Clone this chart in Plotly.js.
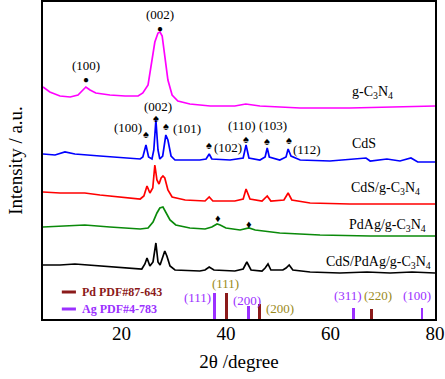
<!DOCTYPE html>
<html>
<head>
<meta charset="utf-8">
<script src="https://cdn.plot.ly/plotly-3.0.1.min.js"></script>
<style>html,body{margin:0;padding:0;background:#fff;}#chart{width:445px;height:379px;}</style>
</head>
<body>
<div id="chart"></div>
<script>
// 2θ (degree) and intensity (a.u., offset stacked)
const gcn_x = [5, 6.3, 8.25, 10.2, 11.7, 12.65, 13.2, 14.0, 15.1, 17.8, 20.7, 23.2, 24.1, 25.1, 25.85, 26.4, 27.0, 27.4, 27.8, 28.3, 28.9, 29.7, 30.8, 33.1, 37.0, 41.7, 43.8, 46.5, 54.2, 63.7, 73.3, 80];
const gcn_y = [232, 227, 223, 222, 224, 229, 232, 229, 226, 224, 223, 223, 226, 234, 259, 277, 286, 287, 283, 264, 239, 224, 218, 215, 213, 213, 215, 213, 211, 211, 212, 213];

const cds_x = [5, 7.3, 9.2, 11.1, 15.9, 21.6, 23.6, 24.1, 24.7, 25.2, 25.85, 26.2, 26.6, 27.0, 27.35, 27.9, 28.5, 28.9, 29.5, 30.25, 35.0, 36.2, 36.8, 37.3, 40.8, 43.3, 43.85, 44.4, 46.5, 47.5, 47.9, 48.3, 50.3, 51.5, 51.9, 52.45, 53.2, 54.2, 59.9, 66.8, 67.6, 70.8, 73.3, 75.4, 76.7, 80];
const cds_y = [165, 164, 167, 165, 163, 161, 160, 162, 174, 162, 160, 169, 199, 169, 160, 163, 184, 179, 163, 159, 159, 160, 165, 160, 159, 161, 174, 161, 159, 162, 171, 162, 159, 162, 170, 163, 161, 159, 158, 161, 158, 160, 158, 161, 157, 157];

const cdsg_x = [5, 8.25, 11.1, 13.0, 15.9, 19.7, 23.6, 24.3, 24.9, 25.45, 26.0, 26.4, 26.8, 27.2, 27.6, 27.95, 28.3, 28.9, 29.7, 32.2, 36.0, 36.8, 37.5, 41.7, 43.3, 43.85, 44.6, 46.9, 47.9, 48.6, 51.1, 51.9, 52.6, 56.1, 63.7, 73.3, 80];
const cdsg_y = [127, 126, 126, 126, 124, 122, 120, 123, 133, 126, 131, 154, 139, 135, 141, 143, 141, 129, 122, 119, 118, 122, 118, 118, 120, 130, 120, 118, 123, 118, 119, 126, 119, 116, 115, 115, 115];

const pdag_x = [5, 8.25, 13.0, 17.8, 23.6, 25.1, 26.05, 26.8, 27.35, 27.95, 28.5, 29.3, 30.4, 33.1, 36.0, 37.3, 38.3, 38.9, 40.0, 42.7, 44.4, 45.6, 50.3, 58.0, 67.6, 80];
const pdag_y = [92, 93, 94, 92, 90, 91, 97, 106, 111, 112, 107, 99, 94, 91, 90, 92, 95, 94, 91, 89, 91, 89, 86, 84, 83, 83];

const cpg_x = [5, 8.25, 11.1, 15.9, 21.6, 23.9, 24.5, 24.9, 25.45, 26.05, 26.6, 27.0, 27.4, 27.95, 28.3, 28.7, 29.3, 30.25, 35.0, 36.0, 36.8, 37.7, 41.7, 43.3, 44.0, 44.8, 46.9, 47.5, 48.05, 48.6, 50.9, 51.5, 52.1, 52.8, 56.1, 61.8, 67.0, 71.4, 75.6, 80];
const cpg_y = [54, 54, 55, 53, 51, 50, 55, 61, 53, 57, 76, 57, 54, 64, 68, 63, 53, 49, 48, 49, 52, 49, 48, 50, 57, 49, 48, 51, 55, 49, 49, 51, 54, 49, 47, 46, 47, 46, 47, 46];

// Standard reference patterns
const ag_pos = [37.8, 44.3, 64.4, 77.5];
const ag_h = [26, 13, 11, 11];
const ag_hkl = ['(111)', '(200)', '(311)', '(100)'];
const pd_pos = [40.1, 46.4, 67.8];
const pd_h = [26, 15, 10];
const pd_hkl = ['(111)', '(200)', '(220)'];

const seriesNames = ['g-C<sub>3</sub>N<sub>4</sub>', 'CdS', 'CdS/g-C<sub>3</sub>N<sub>4</sub>', 'PdAg/g-C<sub>3</sub>N<sub>4</sub>', 'CdS/PdAg/g-C<sub>3</sub>N<sub>4</sub>'];

const serif = 'Liberation Serif, Times New Roman, serif';
const mk = (x, y, color) => ({x: x, y: y, type: 'scatter', mode: 'lines', line: {color: color, width: 1.7}, showlegend: false, hoverinfo: 'skip'});

const traces = [
  mk(gcn_x, gcn_y, '#ff00ff'),
  mk(cds_x, cds_y, '#0000ff'),
  mk(cdsg_x, cdsg_y, '#ff0000'),
  mk(pdag_x, pdag_y, '#0a8a0a'),
  mk(cpg_x, cpg_y, '#000000'),
  {x: ag_pos, y: ag_h, type: 'bar', width: 0.55, marker: {color: '#9b30ff'}, showlegend: false, hoverinfo: 'skip'},
  {x: pd_pos, y: pd_h, type: 'bar', width: 0.55, marker: {color: '#8b1a1a'}, showlegend: false, hoverinfo: 'skip'}
];

const ann = [];
const A = (x, y, text, size, color, extra) => ann.push(Object.assign({x: x, y: y, xref: 'x', yref: 'y', text: text, showarrow: false, font: {family: serif, size: size, color: color || '#000'}}, extra || {}));

// series labels
A(68.0, 227, seriesNames[0], 14);
A(66.4, 176, seriesNames[1], 14);
A(70.6, 131, seriesNames[2], 14);
A(71.0, 94, seriesNames[3], 14);
A(69.1, 57, seriesNames[4], 14);

// g-C3N4 peaks
A(13.2, 254, '(100)', 13); A(13.2, 240, '●', 10);
A(27.4, 305, '(002)', 13); A(27.4, 291, '●', 10);
// CdS peaks
A(27.0, 213, '(002)', 13); A(26.6, 201, '♠', 11);
A(21.3, 192, '(100)', 13); A(24.7, 185, '♠', 11);
A(32.55, 191, '(101)', 13); A(28.5, 193, '♠', 11);
A(40.4, 172, '(102)', 13); A(36.8, 174, '♠', 11);
A(43.1, 194, '(110)', 13); A(43.85, 180, '♠', 11);
A(49.0, 194, '(103)', 13); A(47.9, 178, '♠', 11);
A(55.5, 170, '(112)', 13); A(52.1, 179, '♠', 11);
// PdAg diamonds
A(38.5, 101, '♦', 11); A(44.4, 95, '♦', 11);

// reference labels
A(34.65, 22, ag_hkl[0], 13, '#9b30ff');
A(44.0, 19, ag_hkl[1], 13, '#9b30ff');
A(63.35, 24, ag_hkl[2], 13, '#9b30ff');
A(76.55, 24, ag_hkl[3], 13, '#9b30ff');
A(40.0, 36, pd_hkl[0], 13, '#9a8a20');
A(50.3, 11, pd_hkl[1], 13, '#9a8a20');
A(69.1, 24, pd_hkl[2], 13, '#9a8a20');

// reference legend
A(12.1, 27, '<b>Pd PDF#87-643</b>', 12, '#8b1a1a', {xanchor: 'left'});
A(12.1, 10, '<b>Ag PDF#4-783</b>', 12, '#9b30ff', {xanchor: 'left'});

const shapes = [
  {type: 'line', xref: 'x', yref: 'y', x0: 8.6, x1: 11.3, y0: 27, y1: 27, line: {color: '#8b1a1a', width: 3}},
  {type: 'line', xref: 'x', yref: 'y', x0: 8.6, x1: 11.3, y0: 10, y1: 10, line: {color: '#9b30ff', width: 3}}
];

const layout = {
  width: 445, height: 379,
  margin: {l: 43, r: 10, t: 2, b: 60},
  paper_bgcolor: '#fff', plot_bgcolor: '#fff',
  font: {family: serif, color: '#000'},
  showlegend: false,
  bargap: 0,
  xaxis: {
    range: [5, 80], tickvals: [20, 40, 60, 80], ticks: '', showgrid: false, zeroline: false,
    showline: true, mirror: true, linecolor: '#000', linewidth: 2,
    ticklabelstandoff: -4,
    tickfont: {family: serif, size: 19, color: '#000'},
    title: {text: '2θ /degree', font: {family: serif, size: 19, color: '#000'}, standoff: 12}
  },
  yaxis: {
    range: [0, 317], showticklabels: false, ticks: '', showgrid: false, zeroline: false,
    showline: true, mirror: true, linecolor: '#000', linewidth: 2,
    title: {text: 'Intensity / a.u.', font: {family: serif, size: 19, color: '#000'}, standoff: 13}
  },
  annotations: ann,
  shapes: shapes
};

Plotly.newPlot('chart', traces, layout, {displayModeBar: false, staticPlot: true});
</script>
</body>
</html>
